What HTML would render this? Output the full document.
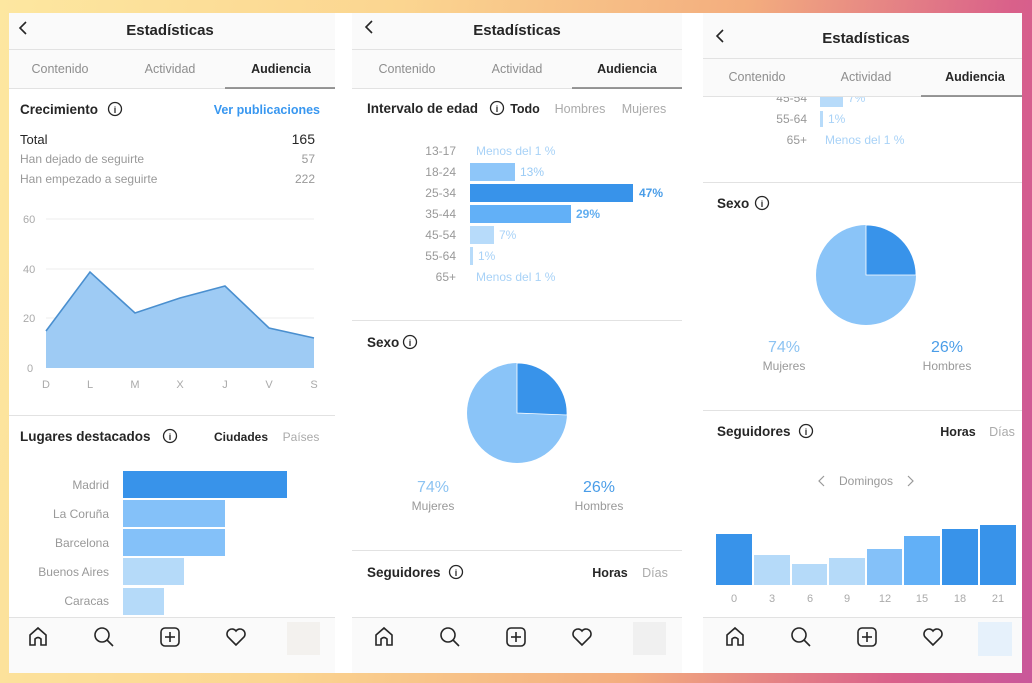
<!DOCTYPE html>
<html><head><meta charset="utf-8"><style>
html,body{margin:0;padding:0;width:1032px;height:683px;overflow:hidden}
body{background:linear-gradient(100deg,#fde7a0 0%,#fbd590 35%,#f3ad7e 65%,#d9608a 88%,#c9579a 100%)}
svg{position:absolute;left:0;top:0}
text{font-family:"Liberation Sans",sans-serif}
.t{font-size:15px;font-weight:bold;fill:#262626}
.tab{font-size:12.5px;fill:#8e8e8e}
.tabA{font-size:12.5px;fill:#262626;font-weight:bold}
.h{font-size:13.5px;font-weight:bold;fill:#262626}
.g{font-size:12px;fill:#999}
.lg{font-size:11px;fill:#aaa}
.lb{font-size:12px;fill:#a8d2f7}
.ic{fill:none;stroke:#262626;stroke-width:1.6}
</style></head><body>
<svg width="1032" height="683" viewBox="0 0 1032 683">
<defs><clipPath id="cp"><rect x="703" y="97" width="319" height="100"/></clipPath></defs>
<rect x="9" y="13" width="1013" height="660" rx="12" fill="#fff"/>
<rect x="9" y="13" width="326" height="75" fill="#fafafa"/>
<rect x="352" y="13" width="330" height="75" fill="#fafafa"/>
<rect x="703" y="13" width="319" height="83" fill="#fafafa"/>
<rect x="9" y="617" width="326" height="56" fill="#fafafa"/>
<rect x="352" y="617" width="330" height="56" fill="#fafafa"/>
<rect x="703" y="617" width="319" height="56" fill="#fafafa"/>
<g stroke="#e2e2e2" stroke-width="1">
<line x1="9" y1="49.5" x2="335" y2="49.5"/><line x1="352" y1="49.5" x2="682" y2="49.5"/><line x1="703" y1="58.5" x2="1022" y2="58.5"/>
<line x1="9" y1="88.5" x2="335" y2="88.5"/><line x1="352" y1="88.5" x2="682" y2="88.5"/><line x1="703" y1="96.5" x2="1022" y2="96.5"/>
<line x1="9" y1="415.5" x2="335" y2="415.5"/><line x1="352" y1="320.5" x2="682" y2="320.5"/><line x1="352" y1="550.5" x2="682" y2="550.5"/>
<line x1="703" y1="182.5" x2="1022" y2="182.5"/><line x1="703" y1="410.5" x2="1022" y2="410.5"/>
<line x1="9" y1="617.5" x2="335" y2="617.5"/><line x1="352" y1="617.5" x2="682" y2="617.5"/><line x1="703" y1="617.5" x2="1022" y2="617.5"/>
</g>
<g stroke="#777" stroke-width="1.5"><line x1="225" y1="88" x2="335" y2="88"/><line x1="572" y1="88" x2="682" y2="88"/><line x1="921" y1="96" x2="1022" y2="96"/></g>
<g class="ic" stroke-width="1.8"><polyline points="26,22 20,28 26,34"/><polyline points="372,21 366,27 372,33"/><polyline points="723,30 717,36 723,42"/></g>
<text class="t" x="170" y="35" text-anchor="middle">Estadísticas</text>
<text class="t" x="517" y="35" text-anchor="middle">Estadísticas</text>
<text class="t" x="866" y="43" text-anchor="middle">Estadísticas</text>
<text class="tab" x="60" y="73" text-anchor="middle">Contenido</text><text class="tab" x="170" y="73" text-anchor="middle">Actividad</text><text class="tabA" x="281" y="73" text-anchor="middle">Audiencia</text>
<text class="tab" x="407" y="73" text-anchor="middle">Contenido</text><text class="tab" x="517" y="73" text-anchor="middle">Actividad</text><text class="tabA" x="627" y="73" text-anchor="middle">Audiencia</text>
<text class="tab" x="757" y="81" text-anchor="middle">Contenido</text><text class="tab" x="866" y="81" text-anchor="middle">Actividad</text><text class="tabA" x="975" y="81" text-anchor="middle">Audiencia</text>

<!-- LEFT -->
<text class="h" x="20" y="114">Crecimiento</text>
<circle cx="115" cy="109" r="6.5" fill="none" stroke="#262626" stroke-width="1.3"/><text x="115" y="113" font-size="9" text-anchor="middle" font-weight="bold" fill="#262626">i</text>
<text x="320" y="114" font-size="12.5" font-weight="bold" fill="#3897f0" text-anchor="end">Ver publicaciones</text>
<text x="20" y="144" font-size="13" fill="#262626">Total</text><text x="315" y="144" font-size="14" fill="#262626" text-anchor="end">165</text>
<text class="g" x="20" y="163">Han dejado de seguirte</text><text class="g" x="315" y="163" text-anchor="end">57</text>
<text class="g" x="20" y="183">Han empezado a seguirte</text><text class="g" x="315" y="183" text-anchor="end">222</text>
<g stroke="#eee"><line x1="46" y1="219" x2="314" y2="219"/><line x1="46" y1="269" x2="314" y2="269"/><line x1="46" y1="318" x2="314" y2="318"/></g>
<g class="lg"><text x="23" y="223">60</text><text x="23" y="273">40</text><text x="23" y="322">20</text><text x="27" y="372">0</text></g>
<polygon points="46,368 46,331 90,272 135,313 180,298 225,286 269,328 314,338 314,368" fill="#9ecbf4"/>
<polyline points="46,331 90,272 135,313 180,298 225,286 269,328 314,338" fill="none" stroke="#4a8fcf" stroke-width="1.6"/>
<g class="lg" text-anchor="middle"><text x="46" y="388">D</text><text x="90" y="388">L</text><text x="135" y="388">M</text><text x="180" y="388">X</text><text x="225" y="388">J</text><text x="269" y="388">V</text><text x="314" y="388">S</text></g>
<text class="h" x="20" y="441">Lugares destacados</text>
<circle cx="170" cy="436" r="6.5" fill="none" stroke="#262626" stroke-width="1.3"/><text x="170" y="440" font-size="9" text-anchor="middle" font-weight="bold" fill="#262626">i</text>
<text x="241" y="441" font-size="12" font-weight="bold" fill="#262626" text-anchor="middle">Ciudades</text><text x="301" y="441" font-size="12" fill="#aaa" text-anchor="middle">Países</text>
<rect x="123" y="471" width="164" height="27" fill="#3893ea"/>
<rect x="123" y="500" width="102" height="27" fill="#84c1f9"/>
<rect x="123" y="529" width="102" height="27" fill="#84c1f9"/>
<rect x="123" y="558" width="61" height="27" fill="#b5daf9"/>
<rect x="123" y="588" width="41" height="27" fill="#b5daf9"/>
<g class="g" text-anchor="end"><text x="109" y="489">Madrid</text><text x="109" y="518">La Coruña</text><text x="109" y="547">Barcelona</text><text x="109" y="576">Buenos Aires</text><text x="109" y="605">Caracas</text></g>

<!-- MIDDLE -->
<text class="h" x="367" y="113">Intervalo de edad</text>
<circle cx="497" cy="108" r="6.5" fill="none" stroke="#262626" stroke-width="1.3"/><text x="497" y="112" font-size="9" text-anchor="middle" font-weight="bold" fill="#262626">i</text>
<text x="525" y="113" font-size="12.5" font-weight="bold" fill="#262626" text-anchor="middle">Todo</text>
<text x="580" y="113" font-size="12.5" fill="#aaa" text-anchor="middle">Hombres</text><text x="644" y="113" font-size="12.5" fill="#aaa" text-anchor="middle">Mujeres</text>
<g class="g" text-anchor="end"><text x="456" y="155">13-17</text><text x="456" y="176">18-24</text><text x="456" y="197">25-34</text><text x="456" y="218">35-44</text><text x="456" y="239">45-54</text><text x="456" y="260">55-64</text><text x="456" y="281">65+</text></g>
<rect x="470" y="163" width="45" height="18" fill="#8ec6f9"/>
<rect x="470" y="184" width="163" height="18" fill="#3893ea"/>
<rect x="470" y="205" width="101" height="18" fill="#62b0f7"/>
<rect x="470" y="226" width="24" height="18" fill="#b7dbfa"/>
<rect x="470" y="247" width="3" height="18" fill="#b7dbfa"/>
<text class="lb" x="476" y="155">Menos del 1 %</text>
<text x="520" y="176" font-size="12" fill="#9acbf5">13%</text>
<text x="639" y="197" font-size="12" font-weight="bold" fill="#4a9de8">47%</text>
<text x="576" y="218" font-size="12" font-weight="bold" fill="#62aef0">29%</text>
<text class="lb" x="499" y="239">7%</text><text class="lb" x="478" y="260">1%</text>
<text class="lb" x="476" y="281">Menos del 1 %</text>
<text class="h" x="367" y="347">Sexo</text>
<circle cx="410" cy="342" r="6.5" fill="none" stroke="#262626" stroke-width="1.3"/><text x="410" y="346" font-size="9" text-anchor="middle" font-weight="bold" fill="#262626">i</text>
<circle cx="517" cy="413" r="50" fill="#8ac4f8"/>
<path d="M517,413 L517,363 A50,50 0 0 1 567,415 Z" fill="#3893ea" stroke="#fff" stroke-width="0.8"/>
<text x="433" y="492" font-size="16" fill="#8cc3f2" text-anchor="middle">74%</text><text class="g" x="433" y="510" text-anchor="middle">Mujeres</text>
<text x="599" y="492" font-size="16" fill="#4a9de8" text-anchor="middle">26%</text><text class="g" x="599" y="510" text-anchor="middle">Hombres</text>
<text class="h" x="367" y="577">Seguidores</text>
<circle cx="456" cy="572" r="6.5" fill="none" stroke="#262626" stroke-width="1.3"/><text x="456" y="576" font-size="9" text-anchor="middle" font-weight="bold" fill="#262626">i</text>
<text x="610" y="577" font-size="12.5" font-weight="bold" fill="#262626" text-anchor="middle">Horas</text><text x="655" y="577" font-size="12.5" fill="#aaa" text-anchor="middle">Días</text>

<!-- RIGHT -->
<g clip-path="url(#cp)">
<text class="g" x="807" y="102" text-anchor="end">45-54</text>
<rect x="820" y="90" width="23" height="17" fill="#b7dbfa"/>
<text class="lb" x="848" y="102">7%</text>
</g>
<g class="g" text-anchor="end"><text x="807" y="123">55-64</text><text x="807" y="144">65+</text></g>
<rect x="820" y="111" width="3" height="16" fill="#b7dbfa"/>
<text class="lb" x="828" y="123">1%</text><text class="lb" x="825" y="144">Menos del 1 %</text>
<text class="h" x="717" y="208">Sexo</text>
<circle cx="762" cy="203" r="6.5" fill="none" stroke="#262626" stroke-width="1.3"/><text x="762" y="207" font-size="9" text-anchor="middle" font-weight="bold" fill="#262626">i</text>
<circle cx="866" cy="275" r="50" fill="#8ac4f8"/>
<path d="M866,275 L866,225 A50,50 0 0 1 916,275 Z" fill="#3893ea" stroke="#fff" stroke-width="0.8"/>
<text x="784" y="352" font-size="16" fill="#8cc3f2" text-anchor="middle">74%</text><text class="g" x="784" y="370" text-anchor="middle">Mujeres</text>
<text x="947" y="352" font-size="16" fill="#4a9de8" text-anchor="middle">26%</text><text class="g" x="947" y="370" text-anchor="middle">Hombres</text>
<text class="h" x="717" y="436">Seguidores</text>
<circle cx="806" cy="431" r="6.5" fill="none" stroke="#262626" stroke-width="1.3"/><text x="806" y="435" font-size="9" text-anchor="middle" font-weight="bold" fill="#262626">i</text>
<text x="958" y="436" font-size="12.5" font-weight="bold" fill="#262626" text-anchor="middle">Horas</text><text x="1002" y="436" font-size="12.5" fill="#aaa" text-anchor="middle">Días</text>
<text class="g" x="866" y="485" text-anchor="middle">Domingos</text>
<g fill="none" stroke="#999" stroke-width="1.2"><polyline points="824,476 819,481 824,486"/><polyline points="908,476 913,481 908,486"/></g>
<rect x="716" y="534" width="36" height="51" fill="#3893ea"/>
<rect x="754" y="555" width="36" height="30" fill="#b5daf9"/>
<rect x="792" y="564" width="35" height="21" fill="#b5daf9"/>
<rect x="829" y="558" width="36" height="27" fill="#b5daf9"/>
<rect x="867" y="549" width="35" height="36" fill="#84c1f9"/>
<rect x="904" y="536" width="36" height="49" fill="#62b0f7"/>
<rect x="942" y="529" width="36" height="56" fill="#3893ea"/>
<rect x="980" y="525" width="36" height="60" fill="#3893ea"/>
<g class="lg" text-anchor="middle"><text x="734" y="602">0</text><text x="772" y="602">3</text><text x="810" y="602">6</text><text x="847" y="602">9</text><text x="885" y="602">12</text><text x="922" y="602">15</text><text x="960" y="602">18</text><text x="998" y="602">21</text></g>

<!-- NAV -->
<defs>
<g id="nav">
<path class="ic" d="M-8,8 V-2 L0,-9 L8,-2 V8 H3 V2 Q0,-1 -3,2 V8 Z"/>
<g transform="translate(66,0)"><circle class="ic" cx="-2" cy="-2" r="7"/><line class="ic" x1="3" y1="3" x2="9" y2="9"/></g>
<g transform="translate(132,0)"><rect class="ic" x="-9" y="-9" width="18" height="18" rx="4"/><line class="ic" x1="0" y1="-5" x2="0" y2="5"/><line class="ic" x1="-5" y1="0" x2="5" y2="0"/></g>
<path transform="translate(198,0)" class="ic" d="M0,8 L-8,0 A4.5,4.5 0 0 1 0,-6 A4.5,4.5 0 0 1 8,0 Z"/>
</g>
</defs>
<use href="#nav" x="38" y="637"/>
<use href="#nav" x="384" y="637"/>
<use href="#nav" x="735" y="637"/>
<rect x="287" y="622" width="33" height="33" fill="#f3f1ee"/>
<rect x="633" y="622" width="33" height="33" fill="#f0f0f0"/>
<rect x="978" y="622" width="34" height="34" fill="#e6f1fb"/>
</svg>
</body></html>
